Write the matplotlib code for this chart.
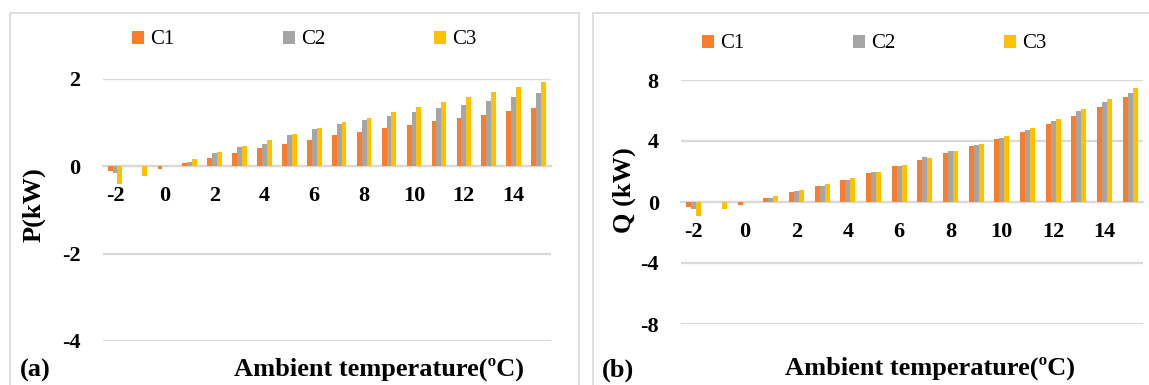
import numpy as np
import matplotlib
matplotlib.use('Agg')
import matplotlib.pyplot as plt
from matplotlib.patches import Rectangle

#---------------------- DATA
temps  = list(range(-2, 16))
series = ["C1", "C2", "C3"]
colors = ['#FA7D2C', '#A5A5A5', '#FFC000']

# (a) power, kW
p_c1 = [-0.10, 0.00, -0.05, 0.08, 0.20, 0.31, 0.42, 0.52, 0.61, 0.71, 0.78, 0.88, 0.95, 1.04, 1.11, 1.18, 1.26, 1.33]
p_c2 = [-0.15, 0.00, 0.00, 0.11, 0.30, 0.44, 0.51, 0.71, 0.86, 0.96, 1.05, 1.15, 1.24, 1.33, 1.41, 1.50, 1.59, 1.67]
p_c3 = [-0.40, -0.21, 0.00, 0.16, 0.32, 0.47, 0.61, 0.75, 0.87, 1.01, 1.11, 1.24, 1.35, 1.47, 1.59, 1.70, 1.82, 1.94]

# (b) heat, kW
q_c1 = [-0.30, 0.00, -0.20, 0.24, 0.66, 1.05, 1.47, 1.91, 2.33, 2.77, 3.19, 3.67, 4.13, 4.62, 5.14, 5.67, 6.24, 6.86]
q_c2 = [-0.45, 0.00, 0.00, 0.28, 0.70, 1.03, 1.45, 1.96, 2.35, 2.92, 3.36, 3.71, 4.20, 4.73, 5.34, 6.00, 6.53, 7.12]
q_c3 = [-0.90, -0.45, 0.00, 0.39, 0.79, 1.16, 1.58, 2.00, 2.44, 2.88, 3.32, 3.82, 4.33, 4.88, 5.47, 6.09, 6.77, 7.49]

xticks  = [-2, 0, 2, 4, 6, 8, 10, 12, 14]
p_ticks = [-4, -2, 0, 2]
q_ticks = [-8, -4, 0, 4, 8]

##------------------------PLOTTING
plt.rcParams['font.family'] = ['Liberation Serif', 'DejaVu Serif']
plt.rcParams['axes.unicode_minus'] = False
W, H = 1149., 385.
fig = plt.figure(figsize=(W/100, H/100), dpi=100)
grid_c = '#D9D9D9'

# panel frames
fig.add_artist(Rectangle((10/W, -0.1), 569/W, (H-13)/H + 0.1, transform=fig.transFigure,
                         fill=False, edgecolor=grid_c, linewidth=1.2))
fig.add_artist(Rectangle((593/W, -0.1), 0.6, (H-13)/H + 0.1, transform=fig.transFigure,
                         fill=False, edgecolor=grid_c, linewidth=1.2))

def panel(rect, data, ylim, yticks, ylabel, tag, ylab_xy, xlab_xy, leg_xy, tag_x):
    ax = fig.add_axes(rect)
    x = np.array(temps, dtype=float)
    w = 0.195
    for i in range(3):
        ax.bar(x + (i-1)*w, data[i], width=w, color=colors[i], label=series[i], zorder=3)
    ax.set_xlim(-2.5, 15.5)
    ax.set_ylim(*ylim)
    ax.set_yticks(yticks)
    ax.set_xticks(xticks)
    for s in ['top', 'right', 'left']:
        ax.spines[s].set_visible(False)
    ax.spines['bottom'].set_position(('data', 0))
    ax.spines['bottom'].set_color(grid_c)
    ax.spines['bottom'].set_linewidth(1.6)
    ax.spines['bottom'].set_zorder(2)
    ax.yaxis.grid(True, color=grid_c, linewidth=1.6)
    ax.set_axisbelow(True)
    ax.tick_params(axis='x', length=0, pad=14.5, labelsize=16)
    ax.tick_params(axis='y', length=0, pad=16, labelsize=16)
    for lb in ax.get_xticklabels() + ax.get_yticklabels():
        lb.set_fontweight('bold')
    ax.set_ylabel(ylabel, fontsize=19, fontweight='bold')
    ax.yaxis.set_label_coords(*ylab_xy)
    ax.set_xlabel("Ambient temperature(ºC)", fontsize=19, fontweight='bold')
    ax.xaxis.set_label_coords(*xlab_xy)
    ax.legend(ncol=3, loc='center left', bbox_to_anchor=leg_xy, bbox_transform=fig.transFigure,
              frameon=False, fontsize=15, handlelength=0.58, handleheight=0.58,
              handletextpad=0.3, columnspacing=5.2, borderpad=0, borderaxespad=0)
    fig.text(tag_x, 1 - 370/H, tag, fontsize=19, fontweight='bold', va='center', ha='left')
    return ax

panel([102.5/W, 1-341/H, 448.5/W, 262/H], [p_c1, p_c2, p_c3], (-4, 2), p_ticks, "P(kW)", "(a)",
      (-0.126, 0.519), (0.6165, -0.063), (132/W, 1-40/H), 20/W)
panel([681/W, 1-324/H, 462/W, 244/H], [q_c1, q_c2, q_c3], (-8, 8), q_ticks, "Q (kW)", "(b)",
      (-0.097, 0.549), (0.539, -0.135), (702/W, 1-44/H), 602/W)

plt.savefig('out.png', dpi=100)
